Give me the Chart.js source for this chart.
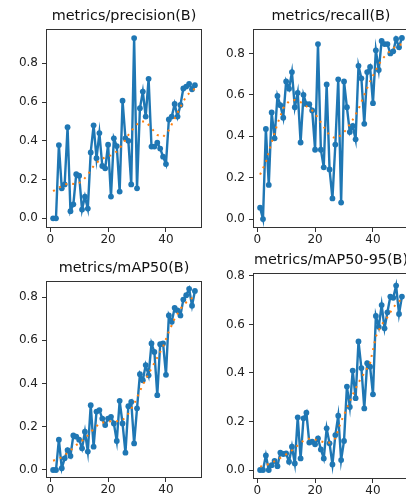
<!DOCTYPE html>
<html>
<head>
<meta charset="utf-8">
<script src="https://cdn.jsdelivr.net/npm/chart.js@4.4.0/dist/chart.umd.min.js"></script>
<style>
html, body { margin: 0; padding: 0; background: #fff; }
body { position: relative; width: 406px; height: 499px; overflow: hidden; }
canvas { position: absolute; }
</style>
</head>
<body>
<canvas id="c1"></canvas>
<canvas id="c2"></canvas>
<canvas id="c3"></canvas>
<canvas id="c4"></canvas>
<script>
var epochs = [1, 2, 3, 4, 5, 6, 7, 8, 9, 10, 11, 12, 13, 14, 15, 16, 17, 18, 19, 20,
	21, 22, 23, 24, 25, 26, 27, 28, 29, 30, 31, 32, 33, 34, 35, 36, 37, 38, 39, 40,
	41, 42, 43, 44, 45, 46, 47, 48, 49, 50]
var smoothEpochs = [1, 3, 5, 7, 9, 11, 13, 15, 17, 19, 21, 23, 25, 27, 29, 31, 33, 35, 37, 39, 41, 43, 45, 47, 49, 50]

var precision = [0.0, 0.0, 0.378, 0.155, 0.175, 0.47, 0.037, 0.072, 0.228, 0.22,
	0.045, 0.112, 0.05, 0.34, 0.48, 0.31, 0.44, 0.27, 0.258, 0.38,
	0.112, 0.413, 0.373, 0.138, 0.607, 0.413, 0.40, 0.175, 0.93, 0.155,
	0.568, 0.654, 0.525, 0.72, 0.37, 0.37, 0.39, 0.36, 0.318, 0.28,
	0.51, 0.525, 0.59, 0.525, 0.585, 0.67, 0.68, 0.694, 0.666, 0.687]
var precisionSmooth = [0.14, 0.158, 0.175, 0.18, 0.175, 0.19, 0.225, 0.27, 0.30, 0.315, 0.325, 0.345, 0.38,
	0.43, 0.47, 0.5, 0.5, 0.465, 0.43, 0.42, 0.455, 0.515, 0.575, 0.63, 0.66, 0.668]

var recall = [0.055, 0.0, 0.435, 0.165, 0.515, 0.39, 0.595, 0.55, 0.49, 0.665,
	0.63, 0.71, 0.54, 0.61, 0.37, 0.60, 0.555, 0.555, 0.525, 0.335,
	0.845, 0.335, 0.25, 0.65, 0.24, 0.10, 0.36, 0.675, 0.08, 0.665,
	0.54, 0.42, 0.45, 0.385, 0.74, 0.68, 0.46, 0.71, 0.735, 0.56,
	0.815, 0.72, 0.86, 0.845, 0.845, 0.80, 0.81, 0.87, 0.83, 0.875]
var recallSmooth = [0.215, 0.275, 0.37, 0.46, 0.535, 0.57, 0.575, 0.565, 0.545, 0.525, 0.49, 0.445, 0.405,
	0.39, 0.405, 0.435, 0.48, 0.53, 0.6, 0.665, 0.72, 0.77, 0.8, 0.825, 0.84, 0.845]

var map50 = [0.0, 0.0, 0.14, 0.008, 0.054, 0.092, 0.065, 0.16, 0.154, 0.14,
	0.1, 0.177, 0.085, 0.3, 0.108, 0.27, 0.277, 0.238, 0.208, 0.238,
	0.246, 0.215, 0.134, 0.32, 0.215, 0.08, 0.295, 0.315, 0.123, 0.285,
	0.443, 0.415, 0.485, 0.438, 0.585, 0.546, 0.346, 0.582, 0.585, 0.44,
	0.715, 0.685, 0.75, 0.738, 0.715, 0.788, 0.808, 0.838, 0.76, 0.828]
var map50Smooth = [0.043, 0.052, 0.068, 0.09, 0.115, 0.135, 0.16, 0.19, 0.215, 0.222, 0.225, 0.225, 0.23,
	0.26, 0.305, 0.365, 0.42, 0.47, 0.52, 0.57, 0.64, 0.7, 0.745, 0.775, 0.795, 0.8]

var map5095 = [0.0, 0.0, 0.06, 0.0, 0.02, 0.038, 0.016, 0.072, 0.066, 0.068,
	0.034, 0.096, 0.027, 0.217, 0.048, 0.213, 0.236, 0.113, 0.117, 0.106,
	0.13, 0.085, 0.048, 0.172, 0.11, 0.023, 0.144, 0.224, 0.041, 0.12,
	0.344, 0.26, 0.41, 0.296, 0.53, 0.42, 0.254, 0.44, 0.426, 0.312,
	0.635, 0.59, 0.68, 0.584, 0.65, 0.715, 0.71, 0.76, 0.643, 0.715]
var map5095Smooth = [0.014, 0.02, 0.03, 0.042, 0.058, 0.072, 0.09, 0.113, 0.128, 0.13, 0.122, 0.115, 0.113,
	0.13, 0.2, 0.255, 0.31, 0.36, 0.4, 0.44, 0.55, 0.6, 0.63, 0.67, 0.695, 0.705]

var xTicks = [0, 20, 40]
var yTicks = [0, 0.2, 0.4, 0.6, 0.8]

var font = 'DejaVu Sans'
var AXIS_W = 46, TITLE_H = 21, XAXIS_H = 24, RIGHT_PAD = 8

// matplotlib style box round the plot area
var frame = {
	id: 'frame',
	afterDraw: function (chart) {
		var a = chart.chartArea, ctx = chart.ctx
		ctx.save()
		ctx.strokeStyle = '#333'
		ctx.lineWidth = 1
		ctx.strokeRect(Math.round(a.left) + 0.5, Math.round(a.top) + 0.5,
			Math.round(a.right - a.left) - 1, Math.round(a.bottom - a.top) - 1)
		ctx.restore()
	}
}

function points(xs, ys) {
	return xs.map(function (x, i) { return { x: x, y: ys[i] } })
}

function panel(id, title, values, smooth, box, yMin, yMax) {
	var el = document.getElementById(id)
	el.width = AXIS_W + box.w + RIGHT_PAD
	el.height = TITLE_H + box.h + XAXIS_H
	el.style.left = (box.x - AXIS_W) + 'px'
	el.style.top = (box.y - TITLE_H) + 'px'

	new Chart(el, {
		type: 'line',
		data: {
			datasets: [{
				data: points(smoothEpochs, smooth),
				borderColor: '#ff7f0e',
				borderWidth: 2,
				borderDash: [2, 5],
				pointRadius: 0,
				fill: false,
				tension: 0,
				order: 0,
			}, {
				data: points(epochs, values),
				borderColor: '#1f77b4',
				backgroundColor: '#1f77b4',
				borderWidth: 2.4,
				pointRadius: 2.9,
				pointBorderWidth: 0,
				fill: false,
				tension: 0,
				order: 1,
			}]
		},
		options: {
			responsive: false,
			animation: false,
			layout: { padding: { left: 0, right: RIGHT_PAD, top: 0, bottom: 0 } },
			plugins: {
				legend: { display: false },
				tooltip: { enabled: false },
				title: {
					display: true,
					fullSize: false,
					text: title,
					color: '#111',
					font: { family: font, size: 14.4, weight: 'normal', lineHeight: '17px' },
					padding: { top: 0, bottom: 4 },
				},
			},
			scales: {
				x: {
					type: 'linear',
					min: -1.45,
					max: 52.45,
					afterFit: function (s) { s.height = XAXIS_H },
					afterBuildTicks: function (s) { s.ticks = xTicks.map(function (v) { return { value: v } }) },
					grid: { drawOnChartArea: false, drawTicks: true, tickLength: 4, color: '#333' },
					border: { display: false },
					ticks: { color: '#222', font: { family: font, size: 12 }, padding: 1, maxRotation: 0, autoSkip: false },
				},
				y: {
					min: yMin,
					max: yMax,
					afterFit: function (s) { s.width = AXIS_W },
					afterBuildTicks: function (s) { s.ticks = yTicks.map(function (v) { return { value: v } }) },
					grid: { drawOnChartArea: false, drawTicks: true, tickLength: 4, color: '#333' },
					border: { display: false },
					ticks: {
						color: '#222', font: { family: font, size: 12 }, padding: 4, autoSkip: false,
						callback: function (v) { return v.toFixed(1) },
					},
				},
			},
		},
		plugins: [frame],
	})
}

panel('c1', 'metrics/precision(B)', precision, precisionSmooth, { x: 46, y: 29, w: 156, h: 199 }, -0.05, 0.977)
panel('c2', 'metrics/recall(B)', recall, recallSmooth, { x: 253, y: 29, w: 156, h: 199 }, -0.043, 0.918)
panel('c3', 'metrics/mAP50(B)', map50, map50Smooth, { x: 46, y: 281, w: 156, h: 197 }, -0.037, 0.874)
panel('c4', 'metrics/mAP50-95(B)', map5095, map5095Smooth, { x: 253, y: 273, w: 156, h: 206 }, -0.037, 0.812)
</script>
</body>
</html>
